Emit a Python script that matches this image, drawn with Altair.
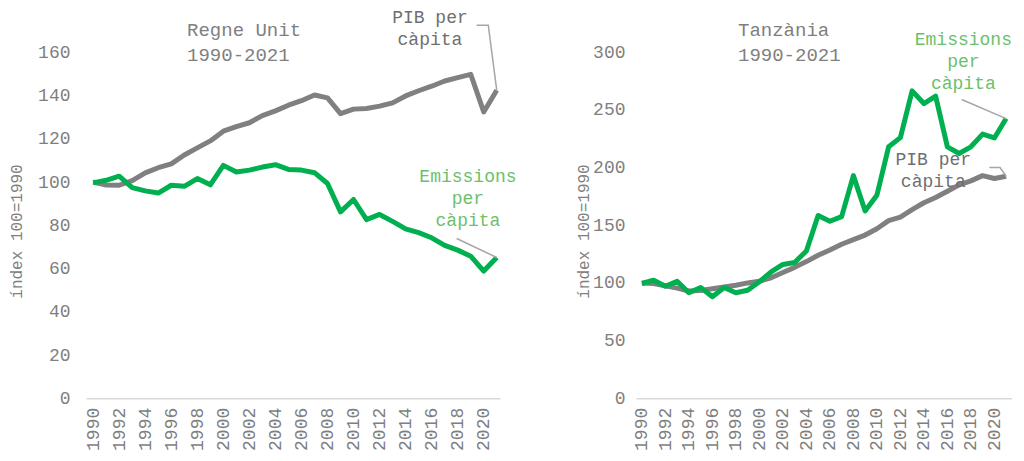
import altair as alt
import pandas as pd

years = list(range(1990, 2022))

uk_pib = [100, 98.6, 98.5, 100.6, 104.2, 106.6, 108.4, 112.5, 115.8, 119.0,
          123.5, 125.6, 127.4, 130.7, 132.9, 135.5, 137.6, 140.2, 138.9, 131.6,
          133.7, 134.0, 135.1, 136.6, 139.8, 142.2, 144.3, 146.7, 148.3, 149.8,
          132.4, 142.4]
uk_emis = [99.6, 100.8, 102.7, 97.4, 95.9, 94.9, 98.5, 98.0, 101.6, 98.7,
           107.7, 104.6, 105.5, 106.9, 108.0, 105.8, 105.5, 104.3, 99.3, 86.2,
           91.9, 82.6, 85.0, 81.8, 78.3, 76.6, 74.2, 70.7, 68.5, 65.7,
           58.8, 65.1]
tz_pib = [100, 99.5, 97.5, 95.5, 93.0, 93.5, 95.0, 96.5, 98.0, 100.0,
          101.5, 104.5, 109.0, 113.5, 118.5, 124.0, 128.5, 133.5, 137.5, 141.5,
          147.0, 154.0, 157.0, 163.5, 169.5, 174.0, 179.5, 185.0, 188.5, 193.0,
          190.5, 192.5]
tz_emis = [99.5, 102.3, 97.1, 101.4, 91.5, 96.0, 88.0, 96.0, 91.5, 93.6,
           101.0, 109.5, 116.0, 117.7, 127.7, 158.5, 153.5, 157.5, 193.0, 162.4,
           176.0, 218.0, 226.0, 266.5, 255.5, 262.0, 218.0, 212.2, 218.0, 229.0,
           225.7, 242.5]

x_ticks = list(range(1990, 2021, 2))
uk_y_ticks = [0, 20, 40, 60, 80, 100, 120, 140, 160]
tz_y_ticks = [0, 50, 100, 150, 200, 250, 300]

FONT = "Liberation Mono"
GRAY = "#808080"
GREEN = "#00b050"
LIGHT_GREEN = "#6cbf6c"
TEXT_GRAY = "#7f7f7f"
LEADER = "#a6a6a6"


def panel(pib, emis, xdom, ydom, yticks, width, height, title_txt, title_pos,
          pib_pos, pib_leader, em_pos, em_leader, label_pad, title_x):
    df_p = pd.DataFrame({"year": years, "value": pib})
    df_e = pd.DataFrame({"year": years, "value": emis})
    xs = alt.Scale(domain=xdom, nice=False, zero=False)
    ys = alt.Scale(domain=ydom, nice=False)
    x_enc = alt.X("year:Q", scale=xs, axis=alt.Axis(
        values=x_ticks, format="d", labelAngle=270, ticks=False, grid=False,
        labelOverlap=False, labelFlush=False, labelSeparation=0,
        domainColor="#d9d9d9", domainWidth=1.5, labelPadding=9, title=None,
        labelFont=FONT, labelFontSize=18, labelColor=TEXT_GRAY))
    y_enc = alt.Y("value:Q", scale=ys, axis=alt.Axis(
        values=yticks, ticks=False, grid=False, domain=False,
        labelOverlap=False, labelFlush=False,
        labelPadding=label_pad, labelFont=FONT, labelFontSize=18,
        labelColor=TEXT_GRAY, title="índex 100=1990", titleFont=FONT,
        titleFontSize=16, titleFontWeight="normal", titleColor=TEXT_GRAY,
        titleAngle=270, titleX=title_x, titleY=222, titleAlign="center",
        titleBaseline="middle"))
    line_p = alt.Chart(df_p).mark_line(color=GRAY, strokeWidth=5, strokeJoin="round").encode(x=x_enc, y=y_enc)
    line_e = alt.Chart(df_e).mark_line(color=GREEN, strokeWidth=5, strokeJoin="round").encode(x=x_enc, y=y_enc)

    def txt(pos, text, color, size, align, lh):
        d = pd.DataFrame({"year": [pos[0]], "value": [pos[1]], "t": [text]})
        return alt.Chart(d).mark_text(font=FONT, fontSize=size, color=color, align=align,
                                      baseline="middle", lineBreak="\n", lineHeight=lh).encode(
            x=x_enc, y=y_enc, text="t:N")

    def leader(pts):
        d = pd.DataFrame({"year": [p[0] for p in pts], "value": [p[1] for p in pts],
                          "o": list(range(len(pts)))})
        return alt.Chart(d).mark_line(color=LEADER, strokeWidth=1.5).encode(
            x=x_enc, y=y_enc, order="o:Q")

    layers = [
        line_p, line_e,
        txt(title_pos, title_txt, TEXT_GRAY, 19, "left", 25),
        txt(pib_pos, "PIB per\ncàpita", "#6f6f6f", 18, "center", 22),
        txt(em_pos, "Emissions\nper\ncàpita", LIGHT_GREEN, 18, "center", 22),
        leader(pib_leader + [(years[-1], pib[-1])]),
        leader(em_leader + [(years[-1], emis[-1])]),
    ]
    return alt.layer(*layers).properties(width=width, height=height)


left = panel(uk_pib, uk_emis, [1989.45, 2021.25], [0, 180], uk_y_ticks, 414, 389.25,
             "Regne Unit\n1990-2021", (1997.21, 170.2),
             (2015.87, 176.0), [(2019.46, 172.5), (2020.35, 172.5)],
             (2018.79, 102.2), [(2017.92, 73.85)],
             16, -69.5)
right = panel(tz_pib, tz_emis, [1989.5, 2021.5], [0, 337.5], tz_y_ticks, 376, 389.25,
              "Tanzània\n1990-2021", (1998.18, 319.1),
              (2014.8, 206.4), [(2019.57, 200.0), (2020.48, 200.0)],
              (2017.36, 310.4), [(2017.22, 259.0)],
              11, -53)

chart = alt.hconcat(left, right, spacing=136, bounds="flush").properties(
    padding={"left": 0, "top": 0, "right": 0, "bottom": 0}
).configure_view(stroke=None).configure_axis(labelOverlap=False)

chart.save("out.html", embed_options={"renderer": "svg", "actions": False})
